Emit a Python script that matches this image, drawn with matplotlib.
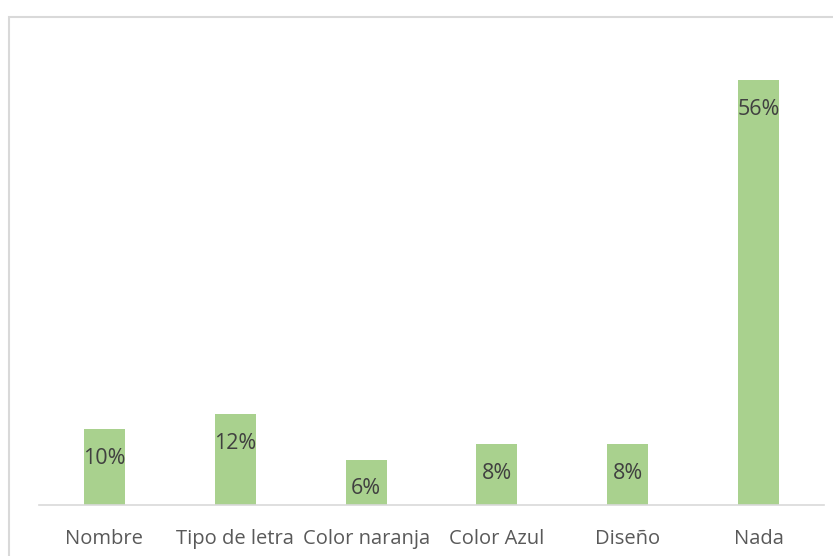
import matplotlib
matplotlib.use('Agg')
import matplotlib.pyplot as plt
from matplotlib.patches import Rectangle

categories = ['Nombre', 'Tipo de letra', 'Color naranja', 'Color Azul', 'Diseño', 'Nada']
values = [10, 12, 6, 8, 8, 56]
labels = ['10%', '12%', '6%', '8%', '8%', '56%']

plt.rcParams['font.family'] = ['Open Sans', 'DejaVu Sans']

W, H = 833, 556
fig = plt.figure(figsize=(W / 100, H / 100), dpi=100)
ax = fig.add_axes([39 / W, 1 - 505 / H, 785 / W, 455 / H])

x = range(len(categories))
ax.bar(x, values, width=0.313, color='#A9D18E', zorder=2)
for xi, v, lab in zip(x, values, labels):
    ax.annotate(lab, (xi, v), xytext=(0, -21), textcoords='offset points',
                ha='center', va='center', fontsize=15.5, color='#404040')

ax.set_xlim(-0.5, 5.5)
ax.set_ylim(0, 60)
ax.set_xticks(list(x))
ax.set_xticklabels(categories, fontsize=14.5, color='#595959')
ax.tick_params(axis='x', length=0, pad=17.5)
ax.set_yticks([])
for side in ['top', 'right', 'left']:
    ax.spines[side].set_visible(False)
ax.spines['bottom'].set_color('#D9D9D9')
ax.spines['bottom'].set_linewidth(1.2)

# outer chart border (only top and left visible in the crop)
fig.add_artist(Rectangle((8.5 / W, -0.1), 1.0, (H - 16.5) / H + 0.1,
                         transform=fig.transFigure, fill=False,
                         edgecolor='#D9D9D9', linewidth=1.5))

plt.savefig('out.png', dpi=100)
